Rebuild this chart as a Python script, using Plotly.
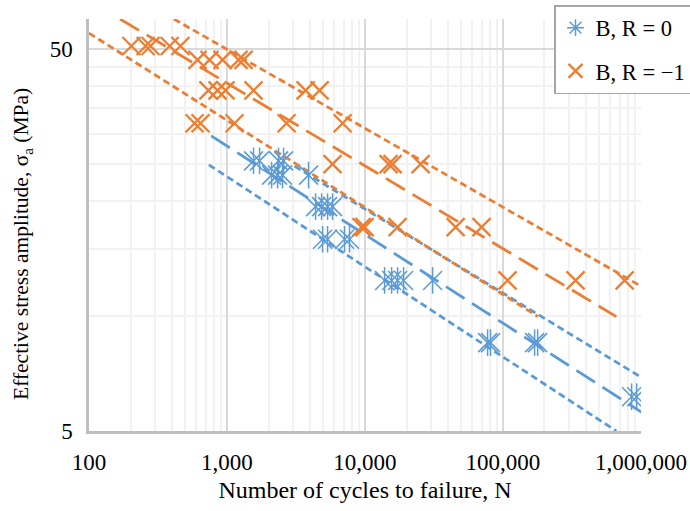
import plotly.graph_objects as go

# ---- data ----
blue_N = [1558, 1722, 2364, 2570,
          2105, 2326, 2527, 3900,
          4386, 4848, 5358, 5824,
          4928, 5358, 7112, 7730,
          13870, 15600, 17230, 19050, 30900,
          77400, 81300, 169600, 178400,
          856000, 931000]
blue_S = [25.5] * 4 + [23.4] * 4 + [19.35] * 4 + [15.9] * 4 + [12.4] * 5 + [8.52] * 4 + [6.15] * 2

orange_N = [203, 257, 279, 384, 460,
            612, 747, 929, 1213, 1318,
            734, 854, 976, 1558, 3710, 4690,
            582, 643, 1134, 2702, 6887,
            5820, 14830, 15860, 25300,
            9450, 9933, 17230, 45400, 70000,
            108000, 336000, 762000]
orange_S = [51] * 5 + [46.9] * 5 + [39] * 6 + [32] * 5 + [25] * 4 + [17.1] * 5 + [12.4] * 3

# trend lines (endpoints, N and S)
blue_mean_N, blue_mean_S = [769, 1034000], [29.65, 5.57]
blue_upper_N, blue_upper_S = [3088, 1034000], [24.7, 6.87]
blue_lower_N, blue_lower_S = [739, 663000], [24.9, 5.0]
orange_mean_N, orange_mean_S = [168, 663000], [60, 9.97]
orange_upper_N, orange_upper_S = [412, 1034000], [60, 11.9]
orange_lower_N, orange_lower_S = [100, 179200], [55.1, 9.97]

x_ticks = [100, 1000, 10000, 100000, 1000000]
x_ticktext = ["100", "1,000", "10,000", "100,000", "1,000,000"]
y_ticks = [5, 50]
y_ticktext = ["5", "50"]

BLUE = "#5B9BD5"
ORANGE = "#ED7D31"
FONT = "Times New Roman, Liberation Serif, serif"

fig = go.Figure()

long_dash = "22px,9px"
short_dash = "7px,4px"
LW = 2.75

for N, S, c, d in [
    (blue_mean_N, blue_mean_S, BLUE, long_dash),
    (blue_upper_N, blue_upper_S, BLUE, short_dash),
    (blue_lower_N, blue_lower_S, BLUE, short_dash),
    (orange_mean_N, orange_mean_S, ORANGE, long_dash),
    (orange_upper_N, orange_upper_S, ORANGE, short_dash),
    (orange_lower_N, orange_lower_S, ORANGE, short_dash),
]:
    fig.add_trace(go.Scatter(x=N, y=S, mode="lines", showlegend=False,
                             line=dict(color=c, width=LW, dash=d), hoverinfo="skip"))

# blue star markers (X + vertical bar)
fig.add_trace(go.Scatter(x=blue_N, y=blue_S, mode="markers", showlegend=False,
                         marker=dict(symbol="x-thin-open", size=19, color=BLUE,
                                     line=dict(color=BLUE, width=1.5))))
fig.add_trace(go.Scatter(x=blue_N, y=blue_S, mode="markers", showlegend=False,
                         marker=dict(symbol="line-ns-open", size=19, color=BLUE,
                                     line=dict(color=BLUE, width=1.5))))
fig.add_trace(go.Scatter(x=orange_N, y=orange_S, mode="markers", showlegend=False,
                         marker=dict(symbol="x-thin-open", size=18, color=ORANGE,
                                     line=dict(color=ORANGE, width=2.25))))

# legend entries
fig.add_trace(go.Scatter(x=[None], y=[None], mode="markers", name="B, R = 0",
                         legendgroup="a",
                         marker=dict(symbol="asterisk-open", size=14, color=BLUE,
                                     line=dict(color=BLUE, width=1.5))))
fig.add_trace(go.Scatter(x=[None], y=[None], mode="markers", name="B, R = \u22121",
                         legendgroup="b",
                         marker=dict(symbol="x-thin-open", size=14, color=ORANGE,
                                     line=dict(color=ORANGE, width=2.25))))

x_minor = [m * 10 ** e for e in range(2, 6) for m in range(2, 10)]
y_minor = [10, 15, 20, 25, 30, 35, 40, 45, 59.9]

L, R, T, B = 89, 49, 19, 80
PW = 690 - L - R
PH = 511 - T - B

fig.update_layout(
    width=690, height=511,
    margin=dict(l=L, r=R, t=T, b=B, autoexpand=False),
    paper_bgcolor="white", plot_bgcolor="white",
    font=dict(family=FONT, color="#000000", size=22),
    showlegend=True,
    legend=dict(x=(554 - L) / PW, y=1 + (T - 5) / PH,
                xanchor="left", yanchor="top", bgcolor="white",
                bordercolor="#A6A6A6", borderwidth=1.5,
                font=dict(family=FONT, size=22.5), itemwidth=30,
                tracegroupgap=11),
    xaxis=dict(type="log", range=[2, 6.0005], tickvals=x_ticks, ticktext=x_ticktext,
               showgrid=True, gridcolor="#D9D9D9", gridwidth=1.5,
               minor=dict(tickvals=x_minor, showgrid=True, gridcolor="#F2F2F2", gridwidth=1.5, ticks=""),
               showline=True, linecolor="#BFBFBF", linewidth=2.5,
               ticks="outside", ticklen=9, tickcolor="rgba(0,0,0,0)",
               tickfont=dict(family=FONT, size=23), zeroline=False,
               title=dict(text="Number of cycles to failure, N", font=dict(family=FONT, size=24), standoff=7)),
    yaxis=dict(type="log", range=[0.69897, 1.778151], tickvals=y_ticks, ticktext=y_ticktext,
               showgrid=True, gridcolor="#D9D9D9", gridwidth=1.5,
               minor=dict(tickvals=y_minor, showgrid=True, gridcolor="#F2F2F2", gridwidth=1.5, ticks=""),
               showline=True, linecolor="#BFBFBF", linewidth=2.5,
               ticks="outside", ticklen=9, tickcolor="rgba(0,0,0,0)",
               tickfont=dict(family=FONT, size=23), zeroline=False),
    annotations=[dict(text="Effective stress amplitude, \u03c3<sub>a</sub> (MPa)",
                      textangle=-90, xref="paper", yref="paper",
                      x=0, y=(431 - 244) / PH, xanchor="center", yanchor="middle",
                      xshift=22 - L, showarrow=False,
                      font=dict(family=FONT, size=21.5, color="#000000"))],
)

fig.write_html("out.html")
